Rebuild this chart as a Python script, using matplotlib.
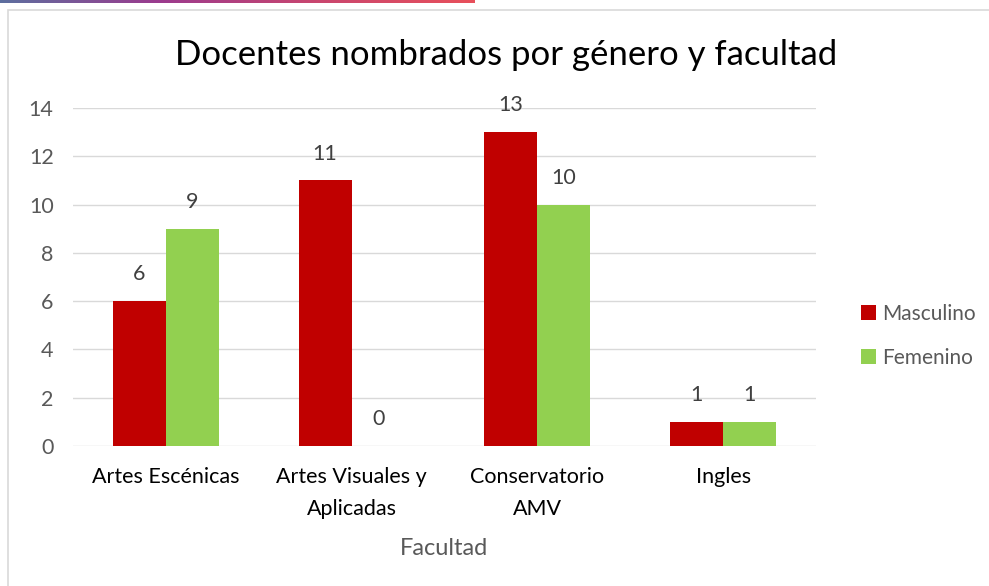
import numpy as np
import matplotlib.pyplot as plt
from matplotlib.patches import Rectangle

plt.rcParams['font.family'] = ['Lato', 'DejaVu Sans']

categorias  = ["Artes Escénicas", "Artes Visuales y\nAplicadas", "Conservatorio\nAMV", "Ingles"]
masculino   = [6, 11, 13, 1]
femenino    = [9, 0, 10, 1]
series      = ["Masculino", "Femenino"]
colores     = ["#C00000", "#92D050"]

fig = plt.figure(figsize=(9.89, 5.86), dpi=100)

# top gradient strip
grad = fig.add_axes([0, 1 - 3/586, 475/989, 3/586])
grad.imshow(np.linspace(0, 1, 256).reshape(1, -1), aspect='auto',
            cmap=plt.matplotlib.colors.LinearSegmentedColormap.from_list(
                'g', ["#5d6f9f", "#9b3b8e", "#c9466f", "#e8505b"]))
grad.axis('off')

# chart frame
fig.patches.append(Rectangle((8/989, -0.01), 1.0, 1 - 10/586 + 0.01, transform=fig.transFigure,
                             fill=False, edgecolor='#d9d9d9', lw=1.2))

ax = fig.add_axes([73/989, 1 - 446/586, 743/989, 338/586])
x = np.arange(len(categorias))
w = 0.285
b1 = ax.bar(x - w/2, masculino, w, color=colores[0], label=series[0], zorder=3)
b2 = ax.bar(x + w/2, femenino, w, color=colores[1], label=series[1], zorder=3)

for bars in (b1, b2):
    for r in bars:
        h = r.get_height()
        ax.annotate(str(int(h)), (r.get_x() + r.get_width()/2, h), xytext=(0, 12),
                    textcoords='offset points', ha='center', va='bottom',
                    fontsize=15.5, color='#404040')

ax.set_xlim(-0.5, len(categorias) - 0.5)
ax.set_ylim(0, 14)
ax.set_yticks(range(0, 15, 2))
ax.grid(axis='y', color='#d9d9d9', lw=1, zorder=0)
for s in ax.spines.values():
    s.set_visible(False)
ax.tick_params(axis='both', length=0, labelsize=15.5, labelcolor='#595959')
ax.tick_params(axis='y', pad=14)
ax.tick_params(axis='x', pad=15)
ax.set_xticks(x)
ax.set_xticklabels(categorias, color='#000000', fontsize=15.5, linespacing=1.75)
ax.set_xlabel("Facultad", fontsize=17, color='#595959', labelpad=14)

fig.text(506/989, 1 - 55/586, "Docentes nombrados por género y facultad",
         ha='center', va='center', fontsize=25, color='#000000')

fig.legend(loc='center left', bbox_to_anchor=(842/989, 1 - 336/586), frameon=False,
           fontsize=15, handlelength=0.75, handleheight=0.75, handletextpad=0.3,
           labelspacing=1.15, labelcolor='#595959')

plt.savefig("out.png", dpi=100)
